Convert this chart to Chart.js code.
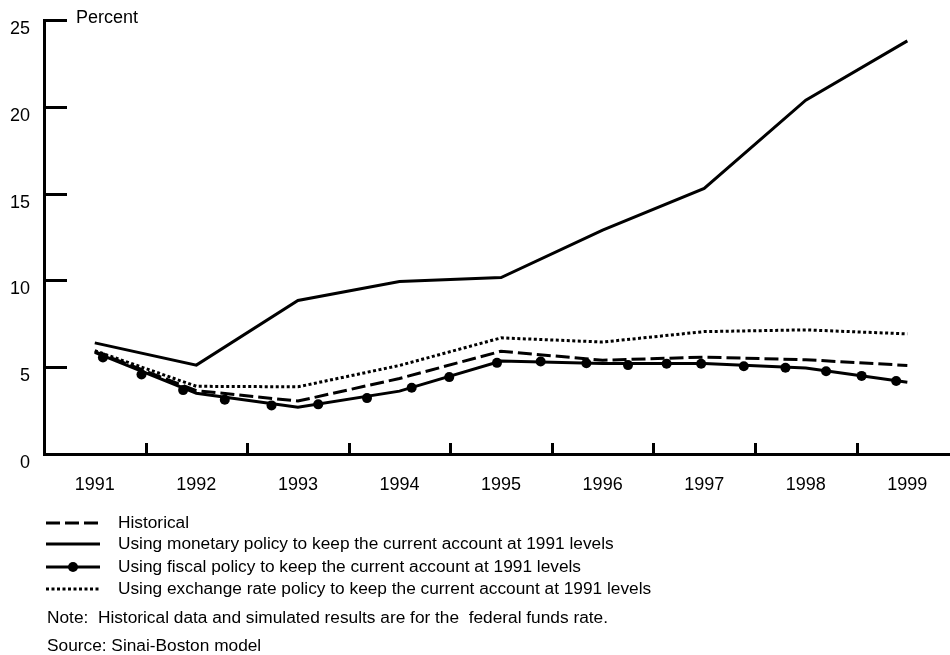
<!DOCTYPE html>
<html>
<head>
<meta charset="utf-8">
<script src="https://cdn.jsdelivr.net/npm/chart.js@4.4.0/dist/chart.umd.min.js"></script>
<style>
  html, body { margin: 0; padding: 0; background: #fff; }
  #wrap { position: relative; width: 950px; height: 655px; font-family: "Liberation Sans", Arial, sans-serif; color: #000; }
  #grafico { position: absolute; left: 0; top: 0; }
  .fila { position: absolute; left: 0; width: 950px; height: 20px; line-height: 20px; font-size: 17.3px; white-space: pre; }
  .fila svg { position: absolute; left: 46px; top: 0; }
  .fila span { position: absolute; left: 118px; top: 0; }
  .nota { position: absolute; left: 47px; font-size: 17.3px; line-height: 20px; white-space: pre; }
</style>
</head>
<body>
<div id="wrap">
  <canvas id="grafico" width="950" height="655"></canvas>
  <div id="leyenda"></div>
  <div class="nota" style="top:607px">Note:  Historical data and simulated results are for the  federal funds rate.</div>
  <div class="nota" style="top:635px">Source: Sinai-Boston model</div>
</div>
<script>
// datos (percent)
const anios = [1991, 1992, 1993, 1994, 1995, 1996, 1997, 1998, 1999];
const historico = [5.9, 3.65, 3.05, 4.35, 5.92, 5.4, 5.58, 5.43, 5.1];
const monetaria = [6.4, 5.12, 8.84, 9.93, 10.16, 12.9, 15.3, 20.38, 23.8];
const fiscal = [5.85, 3.5, 2.7, 3.62, 5.36, 5.22, 5.22, 4.95, 4.13];
const cambiaria = [5.95, 3.9, 3.87, 5.1, 6.69, 6.45, 7.05, 7.15, 6.92];

// marcas (puntos) de la serie fiscal
const fiscalMarcasAnio = [1991.08, 1991.46, 1991.87, 1992.28, 1992.74, 1993.2, 1993.68, 1994.12, 1994.49, 1994.96,
  1995.39, 1995.84, 1996.25, 1996.63, 1996.97, 1997.39, 1997.8, 1998.2, 1998.55, 1998.89];
const fiscalMarcasValor = [5.56, 4.58, 3.68, 3.13, 2.8, 2.86, 3.22, 3.82, 4.43, 5.25,
  5.33, 5.23, 5.12, 5.2, 5.2, 5.05, 4.97, 4.77, 4.5, 4.2];

const ticksY = [0, 5, 10, 15, 20, 25];
const etiquetas = [
  'Historical',
  'Using monetary policy to keep the current account at 1991 levels',
  'Using fiscal policy to keep the current account at 1991 levels',
  'Using exchange rate policy to keep the current account at 1991 levels'
];

const fuente = '"Liberation Sans", Arial, sans-serif';
const puntos = (xs, ys) => xs.map((x, i) => ({ x: x, y: ys[i] }));

// estilos de linea de cada serie (tambien para la leyenda)
const estilos = [
  { dash: [14, 5], marca: false },
  { dash: [], marca: false },
  { dash: [], marca: true },
  { dash: [3, 2.5], marca: false }
];

// marcas de eje hacia adentro + "Percent"
const marcasAdentro = {
  id: 'marcasAdentro',
  afterDraw(chart) {
    const { ctx, scales: { x, y } } = chart;
    ctx.save();
    ctx.strokeStyle = '#000';
    ctx.lineWidth = 3;
    ctx.beginPath();
    ticksY.slice(1).forEach(v => {
      const py = Math.round(y.getPixelForValue(v)) + 0.5;
      ctx.moveTo(x.left, py);
      ctx.lineTo(x.left + 23, py);
    });
    anios.slice(0, -1).forEach(a => {
      const px = Math.round(x.getPixelForValue(a + 0.5)) + 0.5;
      ctx.moveTo(px, y.bottom);
      ctx.lineTo(px, y.bottom - 11);
    });
    ctx.stroke();
    ctx.fillStyle = '#000';
    ctx.font = '18px ' + fuente;
    ctx.textAlign = 'left';
    ctx.textBaseline = 'alphabetic';
    ctx.fillText('Percent', x.left + 32, y.getPixelForValue(25) + 3);
    ctx.restore();
  }
};

const ctx = document.getElementById('grafico').getContext('2d');
new Chart(ctx, {
  type: 'line',
  data: {
    datasets: [
      {
        label: etiquetas[0],
        data: puntos(anios, historico),
        borderColor: '#000',
        borderWidth: 3,
        borderDash: estilos[0].dash,
        pointRadius: 0,
        tension: 0
      },
      {
        label: etiquetas[1],
        data: puntos(anios, monetaria),
        borderColor: '#000',
        borderWidth: 3,
        pointRadius: 0,
        tension: 0
      },
      {
        label: etiquetas[2],
        data: puntos(anios, fiscal),
        borderColor: '#000',
        borderWidth: 3,
        pointRadius: 0,
        tension: 0
      },
      {
        label: 'fiscal marks',
        data: puntos(fiscalMarcasAnio, fiscalMarcasValor),
        showLine: false,
        pointRadius: 5,
        pointBackgroundColor: '#000',
        pointBorderWidth: 0
      },
      {
        label: etiquetas[3],
        data: puntos(anios, cambiaria),
        borderColor: '#000',
        borderWidth: 3,
        borderDash: estilos[3].dash,
        pointRadius: 0,
        tension: 0
      }
    ]
  },
  options: {
    responsive: false,
    animation: false,
    devicePixelRatio: 1,
    layout: { autoPadding: false, padding: { top: 20, right: 0, bottom: 0, left: 0 } },
    plugins: {
      legend: { display: false },
      tooltip: { enabled: false }
    },
    scales: {
      x: {
        type: 'linear',
        min: 1990.5,
        max: 1999.42,
        afterBuildTicks: s => { s.ticks = anios.map(v => ({ value: v })); },
        afterFit: s => { s.height = 201; s.paddingLeft = 0; s.paddingRight = 0; },
        grid: { display: false, drawTicks: false },
        border: { display: true, color: '#000', width: 3 },
        ticks: {
          color: '#000',
          font: { family: fuente, size: 18 },
          padding: 20,
          maxRotation: 0,
          autoSkip: false,
          callback: v => String(v)
        }
      },
      y: {
        min: 0,
        max: 25,
        afterBuildTicks: s => { s.ticks = ticksY.map(v => ({ value: v })); },
        afterFit: s => { s.width = 44; s.paddingTop = 0; s.paddingBottom = 0; },
        grid: { display: false, drawTicks: false },
        border: { display: true, color: '#000', width: 3 },
        ticks: {
          color: '#000',
          font: { family: fuente, size: 18 },
          padding: 14,
          labelOffset: 9
        }
      }
    }
  },
  plugins: [marcasAdentro]
});

// leyenda en html
const filasTop = [512, 533, 556, 578];
const leyenda = document.getElementById('leyenda');
etiquetas.forEach((txt, i) => {
  const fila = document.createElement('div');
  fila.className = 'fila';
  fila.style.top = filasTop[i] + 'px';
  const e = estilos[i];
  const dash = e.dash.length ? ' stroke-dasharray="' + e.dash.join(' ') + '"' : '';
  const punto = e.marca ? '<circle cx="27" cy="11" r="5" fill="#000"/>' : '';
  fila.innerHTML = '<svg width="56" height="20"><line x1="0" y1="11" x2="54" y2="11" stroke="#000" stroke-width="3"' + dash + '/>' + punto + '</svg><span></span>';
  fila.querySelector('span').textContent = txt;
  leyenda.appendChild(fila);
});
</script>
</body>
</html>
